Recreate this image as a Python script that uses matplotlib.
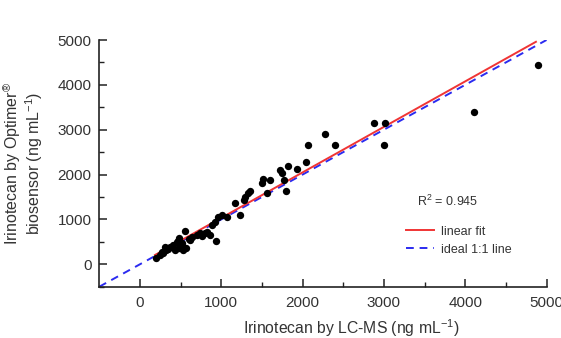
import numpy as np
import matplotlib
matplotlib.use('Agg')
import matplotlib.pyplot as plt
from matplotlib.lines import Line2D

plt.rcParams['font.family'] = ['Liberation Sans', 'DejaVu Sans']
plt.rcParams['mathtext.fontset'] = 'custom'
plt.rcParams['mathtext.rm'] = 'Liberation Sans'
plt.rcParams['mathtext.it'] = 'Liberation Sans'

# LC-MS vs Optimer biosensor (ng/mL)
lcms = [194, 250, 273, 288, 321, 304, 350, 370, 410, 432, 452, 470, 485, 485,
        500, 514, 530, 534, 555, 567, 600, 617, 640, 699, 740, 761, 800, 830,
        863, 884, 925, 937, 966, 1007, 1069, 1171, 1233, 1274, 1295, 1330,
        1356, 1500, 1513, 1562, 1603, 1726, 1747, 1776, 1800, 1816, 1932,
        2043, 2068, 2280, 2394, 2884, 3016, 3007, 4114, 4894]
optimer = [147, 200, 267, 245, 319, 393, 330, 393, 440, 319, 504, 520, 579, 357,
           420, 468, 380, 319, 742, 357, 560, 542, 600, 653, 704, 631, 690, 713,
           653, 876, 950, 519, 1061, 1099, 1061, 1373, 1092, 1433, 1493, 1580,
           1641, 1806, 1895, 1583, 1879, 2102, 2028, 1879, 1634, 2191, 2117,
           2274, 2659, 2903, 2658, 3155, 3155, 2658, 3400, 4432]

fit_x = [185, 4870]
fit_y = [207, 4960]
ideal = [-500, 5000]
r2 = 0.945

fig = plt.figure(figsize=(5.61, 3.38), dpi=100)
ax = fig.add_axes([99.3 / 561, 1 - 286.7 / 338, (546.5 - 99.3) / 561, (286.7 - 40) / 338])

ax.plot(ideal, ideal, color='#2b2bf0', linestyle=(0, (4, 3)), linewidth=1.4, zorder=2)
ax.plot(fit_x, fit_y, color='#f03434', linewidth=1.4, zorder=3)
ax.scatter(lcms, optimer, s=28, color='black', zorder=4, linewidths=0)

ax.set_xlim(-500, 5000)
ax.set_ylim(-500, 5000)
ax.set_xticks([0, 1000, 2000, 3000, 4000, 5000])
ax.set_yticks([0, 1000, 2000, 3000, 4000, 5000])
ax.set_xticks(np.arange(500, 5000, 1000), minor=True)
ax.set_yticks(np.arange(-500, 5000, 1000), minor=True)
ax.tick_params(which='major', direction='in', length=6, width=1.1, labelsize=11,
               colors='#222222', labelcolor='#333333')
ax.tick_params(axis='x', which='major', pad=7)
ax.tick_params(axis='y', which='major', pad=5.5)
ax.tick_params(which='minor', direction='in', length=3.5, width=1.0, colors='#222222')
for s in ['top', 'right']:
    ax.spines[s].set_visible(False)
for s in ['left', 'bottom']:
    ax.spines[s].set_linewidth(1.2)
    ax.spines[s].set_color('#222222')

ax.set_xlabel('Irinotecan by LC-MS (ng mL$^{-1}$)', fontsize=11.3, color='#333333')
ax.xaxis.set_label_coords(0.563, -0.124)
ax.set_ylabel('Irinotecan by Optimer$^{\u00ae}$\nbiosensor (ng mL$^{-1}$)', fontsize=11.5,
              color='#333333', linespacing=1.0)
ax.yaxis.set_label_coords(-0.121, 0.5)

ax.text(0.71, 0.345, 'R$^2$ = %.3f' % r2, transform=ax.transAxes, fontsize=9,
        va='center', ha='left', color='#333333')

handles = [Line2D([], [], color='#f03434', linewidth=1.4),
           Line2D([], [], color='#2b2bf0', linewidth=1.4, linestyle=(0, (4, 3)))]
ax.legend(handles, ['linear fit', 'ideal 1:1 line'], loc='upper left',
          bbox_to_anchor=(0.685, 0.248), frameon=False, fontsize=9,
          handlelength=2.3, handletextpad=0.5, labelspacing=0.5,
          borderpad=0, borderaxespad=0, labelcolor='#333333')

fig.savefig('out.png', dpi=100)
